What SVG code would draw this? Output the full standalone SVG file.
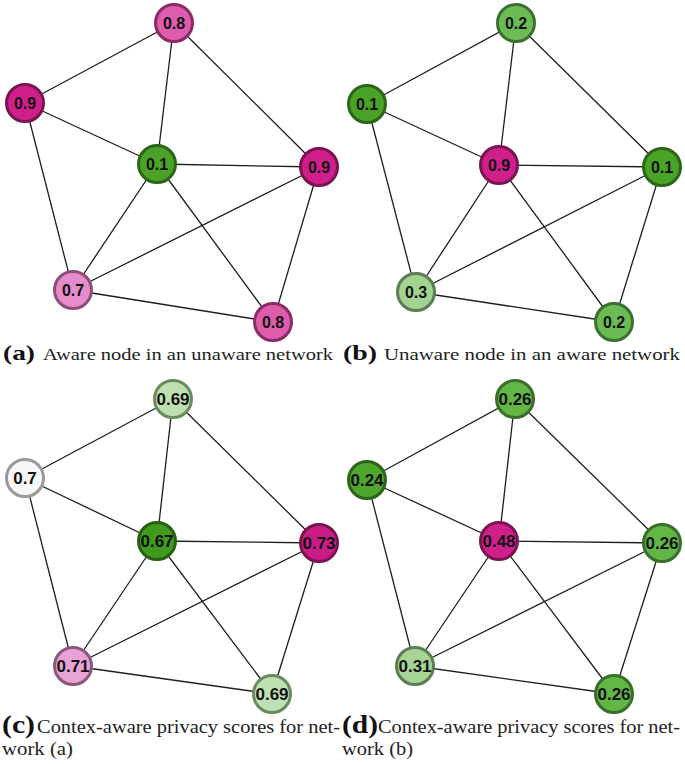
<svg xmlns="http://www.w3.org/2000/svg" width="685" height="764" viewBox="0 0 685 764">
<style>
.e{stroke:#1e1e1e;stroke-width:1.3;fill:none}
.n{stroke-width:3}
.l1{font-family:"Liberation Sans",Arial,sans-serif;font-weight:bold;font-size:16px;fill:#111;text-anchor:middle}
.l2{font-family:"Liberation Sans",Arial,sans-serif;font-weight:bold;font-size:17px;fill:#111;text-anchor:middle}
.cb{font-family:"Liberation Serif","DejaVu Serif",serif;font-weight:bold;fill:#111}
.ct{font-family:"Liberation Serif","DejaVu Serif",serif;fill:#222}
.m9{fill:#d01f8a;stroke:#7a1450}
.m8{fill:#dd5cac;stroke:#8a2b63}
.m7{fill:#e68ccb;stroke:#8c5078}
.g1{fill:#4aa226;stroke:#2b6618}
.g2{fill:#6cbc55;stroke:#3d7030}
.g3{fill:#a2d390;stroke:#5e7d55}
.c69{fill:#bfe1b2;stroke:#6b8a62}
.c70{fill:#f7f7f7;stroke:#9a9a9a}
.c67{fill:#3f9a1e;stroke:#275f14}
.c73{fill:#c91d86;stroke:#7a1450}
.c71{fill:#e8a3d6;stroke:#8a5a7d}
.d26{fill:#62b645;stroke:#3a6e2a}
.d24{fill:#4ea62c;stroke:#2b6618}
.d48{fill:#d0208c;stroke:#7a1450}
.d31{fill:#a7d596;stroke:#5e7d55}
</style>

<!-- Panel (a) -->
<g id="edges-a">
<line class="e" x1="174" y1="23" x2="25" y2="103"/>
<line class="e" x1="174" y1="23" x2="157" y2="164"/>
<line class="e" x1="174" y1="23" x2="319" y2="167"/>
<line class="e" x1="25" y1="103" x2="157" y2="164"/>
<line class="e" x1="25" y1="103" x2="73" y2="290"/>
<line class="e" x1="157" y1="164" x2="319" y2="167"/>
<line class="e" x1="157" y1="164" x2="73" y2="290"/>
<line class="e" x1="157" y1="164" x2="273" y2="322"/>
<line class="e" x1="319" y1="167" x2="73" y2="290"/>
<line class="e" x1="319" y1="167" x2="273" y2="322"/>
<line class="e" x1="73" y1="290" x2="273" y2="322"/>
</g>
<g id="a-top"><circle class="n m8" cx="174" cy="23" r="18.5"/><text class="l1" x="174" y="29">0.8</text></g>
<g id="a-left"><circle class="n m9" cx="25" cy="103" r="18.5"/><text class="l1" x="25" y="109">0.9</text></g>
<g id="a-center"><circle class="n g1" cx="157" cy="164" r="18.5"/><text class="l1" x="157" y="170">0.1</text></g>
<g id="a-right"><circle class="n m9" cx="319" cy="167" r="18.5"/><text class="l1" x="319" y="173">0.9</text></g>
<g id="a-bottomleft"><circle class="n m7" cx="73" cy="290" r="18.5"/><text class="l1" x="73" y="296">0.7</text></g>
<g id="a-bottomright"><circle class="n m8" cx="273" cy="322" r="18.5"/><text class="l1" x="273" y="328">0.8</text></g>

<!-- Panel (b) -->
<g id="edges-b">
<line class="e" x1="516" y1="23" x2="367" y2="104"/>
<line class="e" x1="516" y1="23" x2="499" y2="165"/>
<line class="e" x1="516" y1="23" x2="662" y2="167"/>
<line class="e" x1="367" y1="104" x2="499" y2="165"/>
<line class="e" x1="367" y1="104" x2="416" y2="292"/>
<line class="e" x1="499" y1="165" x2="662" y2="167"/>
<line class="e" x1="499" y1="165" x2="416" y2="292"/>
<line class="e" x1="499" y1="165" x2="614" y2="322"/>
<line class="e" x1="662" y1="167" x2="416" y2="292"/>
<line class="e" x1="662" y1="167" x2="614" y2="322"/>
<line class="e" x1="416" y1="292" x2="614" y2="322"/>
</g>
<g id="b-top"><circle class="n g2" cx="516" cy="23" r="18.5"/><text class="l1" x="516" y="29">0.2</text></g>
<g id="b-left"><circle class="n g1" cx="367" cy="104" r="18.5"/><text class="l1" x="367" y="110">0.1</text></g>
<g id="b-center"><circle class="n m9" cx="499" cy="165" r="18.5"/><text class="l1" x="499" y="171">0.9</text></g>
<g id="b-right"><circle class="n g1" cx="662" cy="167" r="18.5"/><text class="l1" x="662" y="173">0.1</text></g>
<g id="b-bottomleft"><circle class="n g3" cx="416" cy="292" r="18.5"/><text class="l1" x="416" y="298">0.3</text></g>
<g id="b-bottomright"><circle class="n g2" cx="614" cy="322" r="18.5"/><text class="l1" x="614" y="328">0.2</text></g>

<!-- Panel (c) -->
<g id="edges-c">
<line class="e" x1="173" y1="399" x2="25" y2="478"/>
<line class="e" x1="173" y1="399" x2="157" y2="541"/>
<line class="e" x1="173" y1="399" x2="319" y2="543"/>
<line class="e" x1="25" y1="478" x2="157" y2="541"/>
<line class="e" x1="25" y1="478" x2="73" y2="666"/>
<line class="e" x1="157" y1="541" x2="319" y2="543"/>
<line class="e" x1="157" y1="541" x2="73" y2="666"/>
<line class="e" x1="157" y1="541" x2="272" y2="694"/>
<line class="e" x1="319" y1="543" x2="73" y2="666"/>
<line class="e" x1="319" y1="543" x2="272" y2="694"/>
<line class="e" x1="73" y1="666" x2="272" y2="694"/>
</g>
<g id="c-top"><circle class="n c69" cx="173" cy="399" r="18.5"/><text class="l2" x="173" y="405">0.69</text></g>
<g id="c-left"><circle class="n c70" cx="25" cy="478" r="18.5"/><text class="l2" x="25" y="484">0.7</text></g>
<g id="c-center"><circle class="n c67" cx="157" cy="541" r="18.5"/><text class="l2" x="157" y="547">0.67</text></g>
<g id="c-right"><circle class="n c73" cx="319" cy="543" r="18.5"/><text class="l2" x="319" y="549">0.73</text></g>
<g id="c-bottomleft"><circle class="n c71" cx="73" cy="666" r="18.5"/><text class="l2" x="73" y="672">0.71</text></g>
<g id="c-bottomright"><circle class="n c69" cx="272" cy="694" r="18.5"/><text class="l2" x="272" y="700">0.69</text></g>

<!-- Panel (d) -->
<g id="edges-d">
<line class="e" x1="515" y1="399" x2="367" y2="480"/>
<line class="e" x1="515" y1="399" x2="499" y2="541"/>
<line class="e" x1="515" y1="399" x2="662" y2="543"/>
<line class="e" x1="367" y1="480" x2="499" y2="541"/>
<line class="e" x1="367" y1="480" x2="415" y2="666"/>
<line class="e" x1="499" y1="541" x2="662" y2="543"/>
<line class="e" x1="499" y1="541" x2="415" y2="666"/>
<line class="e" x1="499" y1="541" x2="614" y2="694"/>
<line class="e" x1="662" y1="543" x2="415" y2="666"/>
<line class="e" x1="662" y1="543" x2="614" y2="694"/>
<line class="e" x1="415" y1="666" x2="614" y2="694"/>
</g>
<g id="d-top"><circle class="n d26" cx="515" cy="399" r="18.5"/><text class="l2" x="515" y="405">0.26</text></g>
<g id="d-left"><circle class="n d24" cx="367" cy="480" r="18.5"/><text class="l2" x="367" y="486">0.24</text></g>
<g id="d-center"><circle class="n d48" cx="499" cy="541" r="18.5"/><text class="l2" x="499" y="547">0.48</text></g>
<g id="d-right"><circle class="n d26" cx="662" cy="543" r="18.5"/><text class="l2" x="662" y="549">0.26</text></g>
<g id="d-bottomleft"><circle class="n d31" cx="415" cy="666" r="18.5"/><text class="l2" x="415" y="672">0.31</text></g>
<g id="d-bottomright"><circle class="n d26" cx="614" cy="694" r="18.5"/><text class="l2" x="614" y="700">0.26</text></g>

<!-- Captions -->
<g id="captions">
<text class="cb" x="3" y="360" font-size="22" textLength="32" lengthAdjust="spacingAndGlyphs">(a)</text>
<text class="ct" x="43" y="360" font-size="17" textLength="290" lengthAdjust="spacingAndGlyphs">Aware node in an unaware network</text>
<text class="cb" x="343" y="360" font-size="22" textLength="34" lengthAdjust="spacingAndGlyphs">(b)</text>
<text class="ct" x="384" y="360" font-size="17" textLength="296" lengthAdjust="spacingAndGlyphs">Unaware node in an aware network</text>
<text class="cb" x="2" y="733" font-size="25" textLength="33" lengthAdjust="spacingAndGlyphs">(c)</text>
<text class="ct" x="37" y="733" font-size="19" textLength="303" lengthAdjust="spacingAndGlyphs">Contex-aware privacy scores for net-</text>
<text class="ct" x="2" y="755" font-size="19" textLength="71" lengthAdjust="spacingAndGlyphs">work (a)</text>
<text class="cb" x="342" y="733" font-size="25" textLength="36" lengthAdjust="spacingAndGlyphs">(d)</text>
<text class="ct" x="378" y="733" font-size="19" textLength="302" lengthAdjust="spacingAndGlyphs">Contex-aware privacy scores for net-</text>
<text class="ct" x="342" y="755" font-size="19" textLength="71" lengthAdjust="spacingAndGlyphs">work (b)</text>
</g>
</svg>
